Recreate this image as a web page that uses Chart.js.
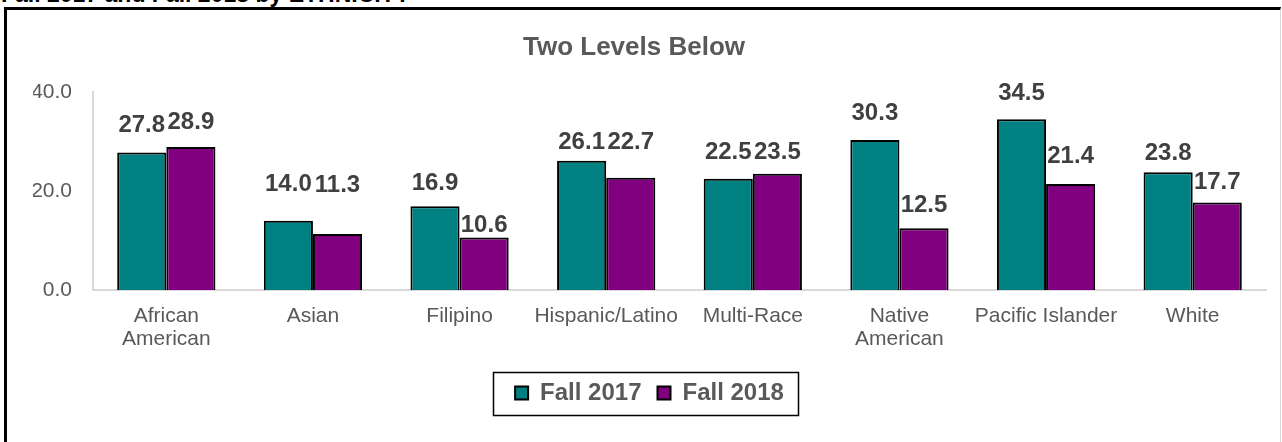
<!DOCTYPE html>
<html>
<head>
<meta charset="utf-8">
<script src="https://cdn.jsdelivr.net/npm/chart.js@4.4.0/dist/chart.umd.min.js"></script>
<style>
  html, body { margin: 0; padding: 0; background: #ffffff; overflow: hidden; width: 1282px; height: 442px; }
  #caption { position: absolute; left: 1px; top: -17px; font: bold 23px "Liberation Sans", Arial, sans-serif; color: #000; white-space: nowrap; line-height: 23px; }
  #frame { position: absolute; left: 4px; top: 7px; width: 1273px; height: 600px; border-left: 3px solid #000; border-top: 3px solid #000; border-right: 1px solid #d9d9d9; }
  #wrap { position: absolute; left: 7px; top: 10px; width: 1274px; height: 432px; }
</style>
</head>
<body>
<div id="caption">Fall 2017 and Fall 2018 by ETHNICITY</div>
<div id="frame"></div>
<div id="wrap"><canvas id="c" width="1274" height="432"></canvas></div>
<script>
const chartTitle = "Two Levels Below";
const categories = [["African", "American"], "Asian", "Filipino", "Hispanic/Latino", "Multi-Race", ["Native", "American"], "Pacific Islander", "White"];
const seriesNames = ["Fall 2017", "Fall 2018"];
const fall2017 = [27.8, 14.0, 16.9, 26.1, 22.5, 30.3, 34.5, 23.8];
const fall2018 = [28.9, 11.3, 10.6, 22.7, 23.5, 12.5, 21.4, 17.7];
const yTicks = [0, 20, 40];

// style: pixel lift of each data label above its bar top (labels were hand-placed in the original)
const labelLift2017 = [27, 36, 23, 18, 26, 27, 26, 19];
const labelLift2018 = [25, 49, 12, 35, 21, 23, 28, 20];

const FONT = '"Liberation Sans", Arial, sans-serif';

const titlePlugin = {
  id: 'customTitle',
  afterDraw(chart) {
    const ctx = chart.ctx;
    ctx.save();
    ctx.font = 'bold 26px ' + FONT;
    ctx.fillStyle = '#595959';
    ctx.textAlign = 'center';
    ctx.textBaseline = 'middle';
    ctx.fillText(chartTitle, 627, 38);
    ctx.restore();
  }
};

const labelPlugin = {
  id: 'barLabels',
  afterDatasetsDraw(chart) {
    const ctx = chart.ctx;
    const lifts = [labelLift2017, labelLift2018];
    ctx.save();
    ctx.font = 'bold 24px ' + FONT;
    ctx.fillStyle = '#404040';
    ctx.textAlign = 'center';
    ctx.textBaseline = 'middle';
    chart.data.datasets.forEach((ds, di) => {
      const meta = chart.getDatasetMeta(di);
      meta.data.forEach((el, i) => {
        ctx.fillText(ds.data[i].toFixed(1), el.x, el.y - lifts[di][i]);
      });
    });
    ctx.restore();
  }
};

const legendBoxPlugin = {
  id: 'legendBox',
  afterDraw(chart) {
    const lg = chart.legend;
    if (!lg || !lg.legendHitBoxes || !lg.legendHitBoxes.length) return;
    const hb = lg.legendHitBoxes;
    const first = hb[0], last = hb[hb.length - 1];
    const cy = first.top + first.height / 2;
    const left = first.left - 22;
    const right = last.left + last.width + 14;
    const ctx = chart.ctx;
    ctx.save();
    ctx.strokeStyle = '#000';
    ctx.lineWidth = 1.5;
    ctx.strokeRect(Math.round(left) + 0.5, Math.round(cy - 21.5) + 0.5, Math.round(right - left), 43);
    ctx.restore();
  }
};

new Chart(document.getElementById('c'), {
  type: 'bar',
  data: {
    labels: categories,
    datasets: [
      { label: seriesNames[0], data: fall2017, backgroundColor: '#008080', borderColor: '#000000', borderWidth: 2 },
      { label: seriesNames[1], data: fall2018, backgroundColor: '#800080', borderColor: '#000000', borderWidth: 2 }
    ]
  },
  options: {
    responsive: false,
    animation: false,
    devicePixelRatio: 1,
    layout: { padding: { left: 26, right: 15, top: 82, bottom: 27 } },
    datasets: { bar: { categoryPercentage: 0.67, barPercentage: 1.0 } },
    scales: {
      x: {
        grid: { display: false, drawTicks: false },
        border: { display: true, color: '#d9d9d9', width: 2 },
        ticks: { color: '#595959', font: { family: FONT, size: 21, lineHeight: 1.1 }, padding: 15, maxRotation: 0, autoSkip: false },
        afterFit(scale) { scale.height = 75; }
      },
      y: {
        min: 0, max: 40,
        afterBuildTicks(scale) { scale.ticks = yTicks.map(v => ({ value: v })); },
        grid: { display: false, drawTicks: false },
        border: { display: true, color: '#d9d9d9', width: 2 },
        ticks: { color: '#595959', font: { family: FONT, size: 21 }, padding: 21, callback: v => Number(v).toFixed(1) },
        afterFit(scale) { scale.width = 60; }
      }
    },
    plugins: {
      title: { display: false },
      tooltip: { enabled: false },
      legend: {
        display: true,
        position: 'bottom',
        labels: { color: '#595959', font: { family: FONT, size: 24, weight: 'bold' }, boxWidth: 13, boxHeight: 13, padding: 16 }
      }
    }
  },
  plugins: [titlePlugin, labelPlugin, legendBoxPlugin]
});
</script>
</body>
</html>
